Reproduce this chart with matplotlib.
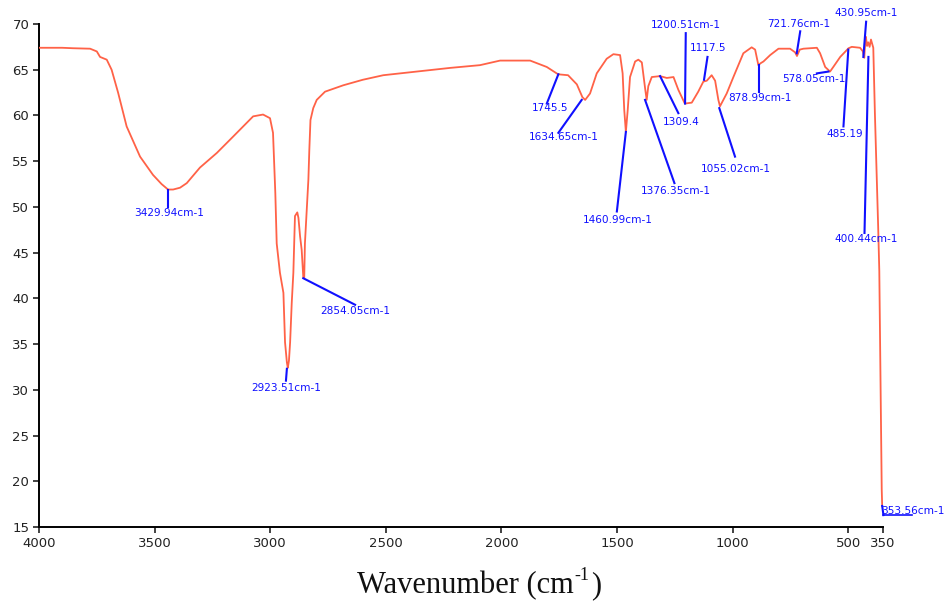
import matplotlib
matplotlib.use("Agg")
import matplotlib.pyplot as plt

# ---- spectrum data (wavenumber cm-1, transmittance %) ----
wavenumber = [4000, 3900, 3853, 3779, 3750, 3736, 3707, 3686, 3658, 3621, 3563, 3507,
              3470, 3442, 3420, 3390, 3361, 3304, 3231, 3160, 3074, 3031, 3001, 2988,
              2978, 2972, 2958, 2943, 2936, 2928, 2924, 2919, 2914, 2907, 2900, 2893,
              2883, 2878, 2871, 2864, 2857, 2853, 2850, 2835, 2831, 2826, 2814, 2799,
              2763, 2684, 2600, 2511, 2366, 2222, 2093, 2006, 1876, 1804, 1755, 1712,
              1674, 1650, 1638, 1617, 1588, 1545, 1516, 1487, 1476, 1469, 1462, 1454,
              1444, 1422, 1408, 1393, 1379, 1372, 1365, 1350, 1314, 1285, 1256, 1235,
              1207, 1177, 1149, 1127, 1112, 1091, 1076, 1062, 1055, 1026, 997, 954,
              918, 903, 889, 880, 867, 838, 802, 752, 730, 722, 710, 694, 636, 622,
              600, 579, 565, 535, 499, 485, 449, 437, 431, 427, 424, 419, 414, 408,
              402, 392, 385, 371, 366, 358, 355.5, 353.5]
transmittance = [67.4, 67.4, 67.35, 67.3, 67.0, 66.4, 66.1, 65.0, 62.5, 58.8, 55.5, 53.5,
                 52.5, 51.9, 51.9, 52.1, 52.6, 54.3, 55.9, 57.7, 59.9, 60.1, 59.7, 58.1,
                 51.5, 46.0, 42.8, 40.6, 35.2, 33.0, 32.4, 33.2, 35.2, 39.5, 42.8, 49.0,
                 49.4, 48.8, 46.8, 45.3, 42.3, 42.2, 46.0, 53.0, 56.2, 59.5, 60.8, 61.7,
                 62.6, 63.3, 63.9, 64.4, 64.8, 65.2, 65.5, 66.0, 66.0, 65.3, 64.5, 64.4,
                 63.4, 62.0, 61.7, 62.4, 64.6, 66.2, 66.7, 66.6, 64.6, 60.6, 58.2, 60.6,
                 64.2, 65.9, 66.1, 65.8, 63.0, 61.7, 63.2, 64.2, 64.3, 64.1, 64.2, 62.8,
                 61.3, 61.4, 62.6, 63.7, 63.8, 64.4, 63.8, 61.7, 61.0, 62.4, 64.2, 66.8,
                 67.45, 67.2, 65.5, 65.7, 65.9, 66.6, 67.3, 67.3, 66.9, 66.5, 67.2, 67.3,
                 67.4, 66.8, 65.3, 64.8, 65.3, 66.4, 67.35, 67.5, 67.4, 67.0, 66.3, 68.0,
                 68.6, 67.6, 68.0, 67.5, 68.3, 67.4, 60.2, 47.9, 43.0, 25.0, 19.1, 17.3]

# ---- peak annotations ----
ann_labels = ["3429.94cm-1", "2923.51cm-1", "2854.05cm-1", "1745.5", "1634.65cm-1",
              "1460.99cm-1", "1376.35cm-1", "1309.4", "1200.51cm-1", "1117.5",
              "1055.02cm-1", "878.99cm-1", "721.76cm-1", "578.05cm-1", "485.19",
              "430.95cm-1", "400.44cm-1", "353.56cm-1"]
ann_peak_x = [3440, 2928, 2857, 1754, 1653, 1462, 1379, 1314, 1206, 1124,
              1058, 886, 723, 586, 500, 435, 413, 353.5]
ann_peak_y = [51.9, 32.3, 42.2, 64.5, 61.7, 58.2, 61.7, 64.3, 61.3, 63.9,
              60.8, 65.5, 66.8, 64.8, 67.2, 66.4, 66.4, 17.3]
ann_end_x = [3440, 2932, 2633, 1804, 1754, 1501, 1252, 1235, 1203, 1109,
             990, 886, 708, 636, 521, 423, 430, 348]
ann_end_y = [50.0, 31.0, 39.3, 61.3, 58.1, 49.5, 52.6, 60.25, 69.0, 66.4,
             55.5, 62.6, 69.2, 64.6, 58.8, 70.25, 47.15, 16.3]
ann_text_x = [3438, 2932, 2633, 1788, 1729, 1496, 1245, 1223, 1202, 1106,
              985, 881, 713, 648, 514, 423, 423, 222]
ann_text_y = [49.37, 30.2, 38.6, 60.8, 57.6, 48.6, 51.7, 59.3, 69.9, 67.35,
              54.1, 61.9, 70.0, 64.0, 58.0, 71.2, 46.5, 16.8]

x_ticks = [4000, 3500, 3000, 2500, 2000, 1500, 1000, 500, 350]
y_ticks = [15, 20, 25, 30, 35, 40, 45, 50, 55, 60, 65, 70]

fig = plt.figure(figsize=(9.46, 6.10), dpi=100)
W, H = 946, 610
ax = fig.add_axes([39 / W, 1 - 527 / H, (883 - 39) / W, (527 - 24) / H])

ax.plot(wavenumber, transmittance, color="#ff6247", lw=1.3, zorder=3)

blue = "#1010ff"
for lab, px, py, ex, ey, tx, ty in zip(ann_labels, ann_peak_x, ann_peak_y, ann_end_x,
                                       ann_end_y, ann_text_x, ann_text_y):
    ax.plot([px, ex], [py, ey], color=blue, lw=1.5, clip_on=False, zorder=4)
    ax.text(tx, ty, lab, color=blue, fontsize=7.6, ha="center", va="center",
            family="DejaVu Sans", clip_on=False, zorder=5)
# underline segment under last label
ax.plot([ann_end_x[-1], 225], [ann_end_y[-1], ann_end_y[-1]], color=blue, lw=1.2,
        clip_on=False, zorder=4)

ax.set_xlim(4000, 350)
ax.set_ylim(15, 70)
ax.set_xticks(x_ticks)
ax.set_xticklabels([str(t) for t in x_ticks])
ax.set_yticks(y_ticks)
ax.set_yticklabels([str(t) for t in y_ticks])
ax.tick_params(axis="both", direction="out", length=4, width=1.2, labelsize=9.5,
               pad=3, colors="#222222")
for lbl in ax.get_xticklabels() + ax.get_yticklabels():
    lbl.set_family("DejaVu Sans")
ax.spines["top"].set_visible(False)
ax.spines["right"].set_visible(False)
ax.spines["left"].set_linewidth(1.4)
ax.spines["bottom"].set_linewidth(1.4)

# x-axis title built from pieces so the superscript keeps a plain hyphen
label_y = 1 - 593 / H
t1 = fig.text(357 / W, label_y, "Wavenumber (cm", family="Liberation Serif",
              fontsize=22, ha="left", va="baseline", color="#111111")
fig.canvas.draw()
r = fig.canvas.get_renderer()
bb = t1.get_window_extent(r)
x_sup = bb.x1 / (W)
t2 = fig.text(x_sup + 1 / W, label_y + 13 / H, "-1", family="Liberation Serif",
              fontsize=13, ha="left", va="baseline", color="#111111")
bb2 = t2.get_window_extent(r)
fig.text(bb2.x1 / W + 1 / W, label_y, ")", family="Liberation Serif",
         fontsize=22, ha="left", va="baseline", color="#111111")

fig.savefig("out.png", dpi=100)
